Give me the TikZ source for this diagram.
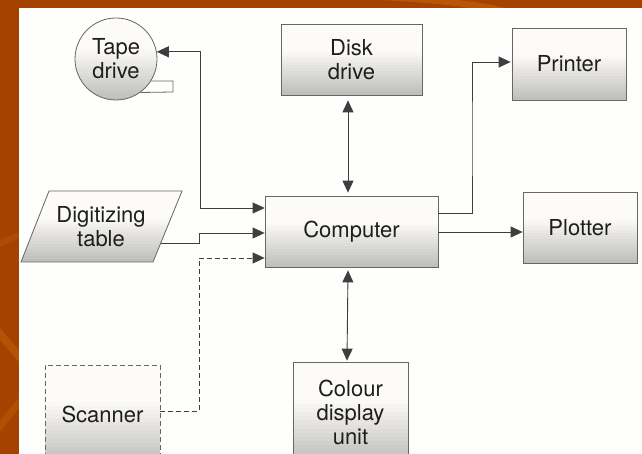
\documentclass[tikz,border=0pt]{standalone}
\usepackage{fontspec}
\setmainfont{TeX Gyre Heros}
\usetikzlibrary{arrows.meta,calc}
\definecolor{frame}{HTML}{A54200}
\definecolor{framelight}{HTML}{C8680C}
\definecolor{paper}{HTML}{FEFEFC}
\definecolor{ink}{HTML}{3E3E3E}
\definecolor{edge}{HTML}{666666}
\definecolor{shadetop}{HTML}{FCFBF7}
\definecolor{shadebot}{HTML}{BDBDB9}
\definecolor{textc}{HTML}{1E1E1E}
\begin{document}
\begin{tikzpicture}[x=1pt,y=-1pt,
  % light at the top, greying towards the bottom, built from thin bands
  shaded/.style={fill=shadetop, path picture={
    \coordinate (pa) at (path picture bounding box.north west);
    \coordinate (pb) at (path picture bounding box.south east);
    \coordinate (pc) at (pa |- pb);
    \coordinate (pd) at (pa -| pb);
    \foreach \i in {0,...,23}{
      \pgfmathsetmacro\ta{\i/24}
      \pgfmathsetmacro\tb{(\i+1.3)/24}
      \pgfmathsetmacro\p{100*max(0,((\i+0.5)/24-0.38)/0.62)}
      \fill[shadebot!\p!shadetop] ($(pa)!\ta!(pc)$) rectangle ($(pd)!\tb!(pb)$);
    }}},
  unit/.style={draw=edge, line width=0.8pt, shaded,
    text=textc, align=center, inner sep=0pt, font=\fontsize{22}{24}\selectfont},
  box/.style 2 args={unit, rectangle, minimum width=#1, minimum height=#2},
  label/.style={text=textc, align=center, inner sep=0pt, font=\fontsize{22}{24}\selectfont},
  link/.style={draw=ink, line width=0.9pt},
  tip/.tip={Triangle[length=12pt,width=11pt]},
  dashline/.style={dash pattern=on 5pt off 3pt}]
\useasboundingbox (0,0) rectangle (642,454);
\clip (0,0) rectangle (642,454);
% frame behind the sheet
\fill[frame] (0,0) rectangle (642,454);
\fill[framelight, opacity=0.45] (0,328) -- (19,350) -- (19,362) -- (0,340) -- cycle;
\fill[framelight, opacity=0.35] (0,420) -- (19,398) -- (19,408) -- (0,432) -- cycle;
\fill[framelight, opacity=0.25] (0,240) -- (19,232) -- (19,238) -- (0,247) -- cycle;
\fill[framelight, opacity=0.55] (380,0) .. controls (420,2) and (450,5) .. (470,8) -- (505,8) .. controls (490,4) and (470,1) .. (455,0) -- cycle;
% the sheet
\fill[paper] (19,8) rectangle (642,454);

% units
\node[unit, circle, minimum size=82pt] (tape) at (116,59) {Tape\\drive};
\draw[edge, line width=0.8pt] (tape.-32) -- (173,81) -- (173,92) -- (tape.-54);
\node[box={141pt}{71pt}] (disk) at (351.5,59.5) {Disk\\drive};
\node[box={114pt}{72pt}] (printer) at (569,64) {\raisebox{-2pt}{Printer}};
\node[box={173pt}{71pt}] (comp) at (351.5,231.5) {Computer};
\node[box={114pt}{71pt}] (plot) at (580,227.5) {Plotter};
\node[box={115pt}{100pt}] (colour) at (350.5,412) {Colour\\display\\unit};
\node[box={115pt}{98pt}, dashline] (scan) at (102.5,414) {Scanner};
% digitizing table (parallelogram)
\filldraw[draw=edge, line width=0.8pt, shaded]
  (49,191) -- (182,191) -- (153,262) -- (21,262) -- cycle;
\node[label] (dig) at (101,227) {Digitizing\\table};
\coordinate (digout) at (161,243);

% connectors
\draw[link, {tip}-{tip}] (tape.10) -| (200,208) -- (comp.west |- 0,208);
\draw[link, -{tip}] (digout) -| (199,233) -- (comp.west |- 0,233);
\draw[link, dashline, -{tip}] (scan.east |- 0,411) -| (199,258) -- (comp.west |- 0,258);
\draw[link, {tip}-{tip}] ($(disk.south)+(-3.5,5)$) -- ($(comp.north)+(-3.5,-3)$);
\draw[link, {tip}-{tip}] ($(comp.south)+(-3.5,3)$) -- ($(colour.north)+(-3.5,-1)$);
\draw[link, -{tip}] (comp.east |- 0,213) -| (472,140) |- ($(printer.west)+(-1,-2)$);
\draw[link, -{tip}] (comp.east |- 0,232) -- (plot.west |- 0,232);
\end{tikzpicture}
\end{document}
